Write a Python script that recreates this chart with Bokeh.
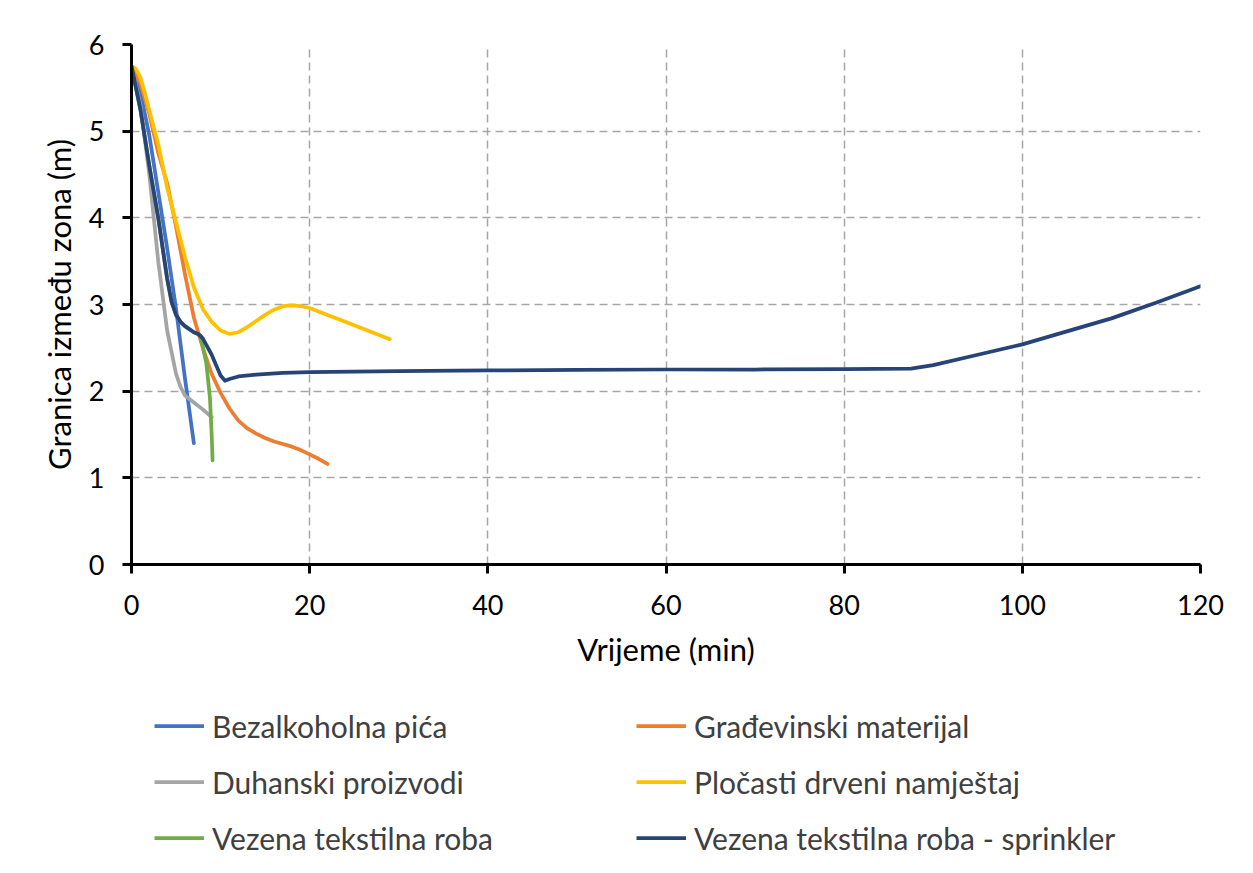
from bokeh.plotting import figure
from bokeh.models import FixedTicker, Legend, LegendItem, Range1d
from bokeh.layouts import column
from bokeh.embed import file_html
from bokeh.resources import INLINE

# ---- data ----
x_ticks = [0, 20, 40, 60, 80, 100, 120]
y_ticks = [0, 1, 2, 3, 4, 5, 6]

names = ["Bezalkoholna pića", "Građevinski materijal", "Duhanski proizvodi",
         "Pločasti drveni namještaj", "Vezena tekstilna roba",
         "Vezena tekstilna roba - sprinkler"]

bez_x = [0, 1, 2, 3, 4, 5, 6, 7]
bez_y = [5.75, 5.45, 4.95, 4.3, 3.65, 2.95, 2.15, 1.4]

gra_x = [0, 1, 2, 3, 4, 5, 6, 7, 8, 9, 10, 11, 12, 13, 14, 15, 16, 17, 18, 19, 20, 21, 22]
gra_y = [5.75, 5.55, 5.2, 4.75, 4.4, 3.9, 3.35, 2.85, 2.5, 2.2, 1.98, 1.8, 1.66, 1.57,
         1.51, 1.46, 1.42, 1.39, 1.36, 1.32, 1.27, 1.22, 1.16]

duh_x = [0, 1, 2, 3, 4, 5, 5.5, 6, 7, 8, 9]
duh_y = [5.75, 5.3, 4.5, 3.5, 2.7, 2.2, 2.05, 1.95, 1.87, 1.79, 1.7]

plo_x = [0, 0.5, 1, 1.5, 2, 3, 4, 5, 6, 7, 8, 9, 10, 11, 12, 13, 14, 15, 16, 17, 18,
         19, 20, 22, 24, 26, 29]
plo_y = [5.75, 5.72, 5.62, 5.44, 5.24, 4.85, 4.35, 3.95, 3.55, 3.2, 2.95, 2.8, 2.7,
         2.66, 2.68, 2.74, 2.81, 2.88, 2.94, 2.98, 2.99, 2.98, 2.96, 2.88, 2.8, 2.72, 2.6]

vez_x = [0, 1, 2, 3, 3.5, 4, 4.5, 5, 5.5, 6, 7, 7.75, 8.4, 8.8, 9.0, 9.1]
vez_y = [5.75, 5.25, 4.6, 4.0, 3.65, 3.3, 3.03, 2.88, 2.8, 2.75, 2.68, 2.64, 2.32,
         1.93, 1.5, 1.2]

spr_x = [0, 1, 2, 3, 3.5, 4, 4.5, 5, 5.5, 6, 7, 7.5, 8, 9, 9.5, 10, 10.5, 11, 12, 14,
         17, 20, 30, 40, 50, 60, 70, 80, 87.5, 90, 95, 100, 105, 110, 115, 120]
spr_y = [5.75, 5.25, 4.6, 4.0, 3.65, 3.3, 3.03, 2.88, 2.8, 2.75, 2.68, 2.66, 2.61,
         2.42, 2.3, 2.18, 2.12, 2.14, 2.17, 2.19, 2.21, 2.22, 2.23, 2.24, 2.245, 2.25,
         2.25, 2.255, 2.26, 2.3, 2.42, 2.54, 2.69, 2.84, 3.02, 3.21]

series = [(bez_x, bez_y), (gra_x, gra_y), (duh_x, duh_y), (plo_x, plo_y),
          (vez_x, vez_y), (spr_x, spr_y)]
colors = ["#4472C4", "#ED7D31", "#A5A5A5", "#FFC000", "#70AD47", "#264478"]

FONT = "Lato"
W = 1237
H_MAIN = 680
H_LEG = 177

p = figure(width=W, height=H_MAIN, output_backend="svg", toolbar_location=None,
           x_range=Range1d(0, 120), y_range=Range1d(0, 6),
           min_border_left=131, min_border_right=37, min_border_top=44,
           min_border_bottom=H_MAIN - 564)
p.outline_line_color = None
p.background_fill_color = "white"
p.border_fill_color = "white"

for (xs, ys), c in zip(series, colors):
    p.line(xs, ys, line_color=c, line_width=3.75, line_join="round", line_cap="round")

for ax in (p.xaxis, p.yaxis):
    ax.axis_line_color = "black"
    ax.axis_line_width = 3
    ax.major_tick_line_color = "black"
    ax.major_tick_line_width = 3
    ax.major_tick_out = 9
    ax.major_tick_in = 0
    ax.minor_tick_line_color = None
    ax.major_label_text_font = FONT
    ax.major_label_text_font_size = "27px"
    ax.major_label_text_color = "black"
    ax.axis_label_text_font = FONT
    ax.axis_label_text_font_size = "31px"
    ax.axis_label_text_font_style = "normal"
    ax.axis_label_text_color = "black"

p.xaxis.ticker = FixedTicker(ticks=x_ticks)
p.yaxis.ticker = FixedTicker(ticks=y_ticks)
p.xaxis.axis_label = "Vrijeme (min)"
p.yaxis.axis_label = "Granica između zona (m)"
p.xaxis.major_label_standoff = 21
p.yaxis.major_label_standoff = 18
p.xaxis.axis_label_standoff = 12
p.yaxis.axis_label_standoff = 8

p.xgrid.ticker = FixedTicker(ticks=x_ticks)
p.ygrid.ticker = FixedTicker(ticks=y_ticks)
for g in (p.xgrid, p.ygrid):
    g.grid_line_color = "#A6A6A6"
    g.grid_line_width = 1.5
    g.grid_line_dash = "8 5"

# ---- legend panel (separate figure so it is not clipped) ----
q = figure(width=W, height=H_LEG, output_backend="svg", toolbar_location=None,
           x_range=Range1d(0, 1), y_range=Range1d(0, 1), min_border=0)
q.axis.visible = False
q.grid.visible = False
q.outline_line_color = None
q.border_fill_color = "white"

nan = float("nan")
leg_renderers = [q.line(x=[nan], y=[nan], line_color=c, line_width=3.75) for c in colors]
items = [LegendItem(label=n, renderers=[r]) for n, r in zip(names, leg_renderers)]
legend = Legend(items=items, orientation="horizontal", ncols=2,
                location=(23, 1), padding=0, margin=0, spacing=19,
                glyph_width=50, glyph_height=37, label_width=405, label_height=37,
                label_standoff=8, border_line_color=None,
                background_fill_alpha=0,
                label_text_font=FONT, label_text_font_size="30px",
                label_text_color="#404040")
q.add_layout(legend)

layout = column(p, q, spacing=0)
open("out.html", "w").write(file_html(layout, INLINE))
